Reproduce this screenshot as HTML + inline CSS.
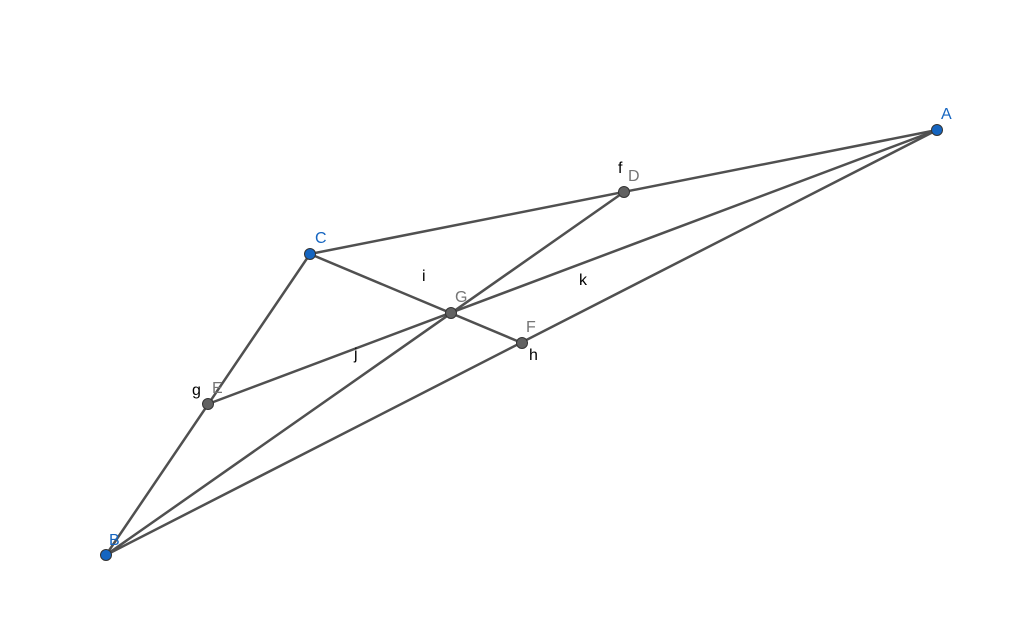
<!DOCTYPE html>
<html><head><meta charset="utf-8"><style>
html,body{margin:0;padding:0;background:#fff;}
svg{display:block;}
text{font-family:"Liberation Sans",sans-serif;font-size:16px;}
</style></head><body>
<svg width="1024" height="631" viewBox="0 0 1024 631">
<g stroke="#505050" stroke-width="2.5" fill="none" stroke-linecap="round">
<line x1="106" y1="555" x2="937" y2="130"/>
<line x1="106" y1="555" x2="310" y2="254"/>
<line x1="310" y1="254" x2="937" y2="130"/>
<line x1="937" y1="130" x2="208" y2="404"/>
<line x1="106" y1="555" x2="624" y2="192"/>
<line x1="310" y1="254" x2="522" y2="343"/>
</g>
<g stroke="#333" stroke-width="1">
<circle cx="624" cy="192" r="5.5" fill="#616161"/>
<circle cx="208" cy="404" r="5.5" fill="#616161"/>
<circle cx="522" cy="343" r="5.5" fill="#616161"/>
<circle cx="451" cy="313" r="5.5" fill="#616161"/>
<circle cx="937" cy="130" r="5.5" fill="#1565c0"/>
<circle cx="106" cy="555" r="5.5" fill="#1565c0"/>
<circle cx="310" cy="254" r="5.5" fill="#1565c0"/>
</g>
<g fill="#1565c0">
<text x="941" y="119">A</text>
<text x="109" y="545">B</text>
<text x="315" y="243">C</text>
</g>
<g fill="#757575">
<text x="628" y="181">D</text>
<text x="212" y="393">E</text>
<text x="526" y="332">F</text>
<text x="455" y="302">G</text>
</g>
<g fill="#000">
<text x="618" y="173">f</text>
<text x="192" y="395">g</text>
<text x="529" y="360">h</text>
<text x="422" y="281">i</text>
<text x="354" y="359">j</text>
<text x="579" y="285">k</text>
</g>
</svg>
</body></html>
